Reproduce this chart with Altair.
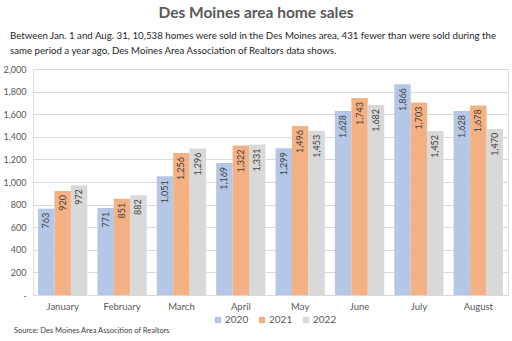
import altair as alt
import pandas as pd

months = ["January", "February", "March", "April", "May", "June", "July", "August"]
years = ["2020", "2021", "2022"]
sales_2020 = [763, 771, 1051, 1169, 1299, 1628, 1866, 1628]
sales_2021 = [920, 851, 1256, 1322, 1496, 1743, 1703, 1678]
sales_2022 = [972, 882, 1296, 1331, 1453, 1682, 1452, 1470]
colors = ["#B4C7E7", "#F4B183", "#D9D9D9"]
y_ticks = [0, 200, 400, 600, 800, 1000, 1200, 1400, 1600, 1800, 2000]

title_text = "Des Moines area home sales"
subtitle_line1 = "Between Jan. 1 and Aug. 31, 10,538 homes were sold in the Des Moines area, 431 fewer than were sold during the"
subtitle_line2 = "same period a year ago, Des Moines Area Association of Realtors data shows."
source_text = "Source: Des Moines Area Assocition of Realtors"

FONT = "Lato"

rows = []
for y, vals in zip(years, [sales_2020, sales_2021, sales_2022]):
    for m, v in zip(months, vals):
        rows.append({"month": m, "year": y, "sales": v})
df = pd.DataFrame(rows)

W, H = 475, 226

x_enc = alt.X("month:N", sort=months, title=None,
              scale=alt.Scale(paddingInner=0.17, paddingOuter=0.085),
              axis=alt.Axis(labelAngle=0, ticks=False, domain=False, labelFont=FONT,
                            labelFontSize=9.5, labelColor="#595959", labelPadding=6))
y_enc = alt.Y("sales:Q", title=None,
              scale=alt.Scale(domain=[0, 2000], nice=False),
              axis=alt.Axis(values=y_ticks, domain=False, ticks=False, labelOverlap=False,
                            labelExpr="datum.value == 0 ? '-' : format(datum.value, ',')",
                            labelFont=FONT, labelFontSize=9, labelColor="#595959",
                            labelPadding=7, gridColor="#D9D9D9", gridWidth=1))
xo = alt.XOffset("year:N", sort=years, scale=alt.Scale(paddingInner=0, paddingOuter=0))
color = alt.Color("year:N", sort=years,
                  scale=alt.Scale(domain=years, range=colors),
                  legend=alt.Legend(title=None, orient="none", direction="horizontal",
                                    legendX=180, legendY=H + 20, symbolType="square",
                                    symbolSize=40, symbolStrokeWidth=0, labelFont=FONT,
                                    labelFontSize=10, labelColor="#595959",
                                    columnPadding=8, labelOffset=2))

base = alt.Chart(df)
bars = base.mark_bar().encode(x=x_enc, y=y_enc, xOffset=xo, color=color)
labels = base.mark_text(angle=270, align="right", baseline="middle", dx=-4,
                        font=FONT, fontSize=9, color="#404040").encode(
    x=x_enc, y=y_enc, xOffset=xo,
    text=alt.Text("sales:Q", format=","))


def text_line(t, x, y, size, align="left", weight="normal", color="#262626"):
    d = pd.DataFrame({"t": [t]})
    return alt.Chart(d).mark_text(align=align, baseline="middle", font=FONT, fontSize=size,
                                  fontWeight=weight, color=color).encode(
        x=alt.value(x), y=alt.value(y), text="t:N")


title = text_line(title_text, 223, -56, 15.5, align="center", weight="bold", color="#595959")
sub1 = text_line(subtitle_line1, -23, -33, 9.7)
sub2 = text_line(subtitle_line2, -23, -18, 9.7)
source = text_line(source_text, -19, H + 36, 7.5, color="#404040")

chart = alt.layer(bars, labels, title, sub1, sub2, source).properties(
    width=W, height=H,
    autosize=alt.AutoSizeParams(type="none"),
    padding={"left": 33, "top": 69, "right": 4, "bottom": 46},
).configure_view(stroke=None).configure(background="white")

chart.save("out.html", embed_options={"renderer": "svg", "actions": False})
